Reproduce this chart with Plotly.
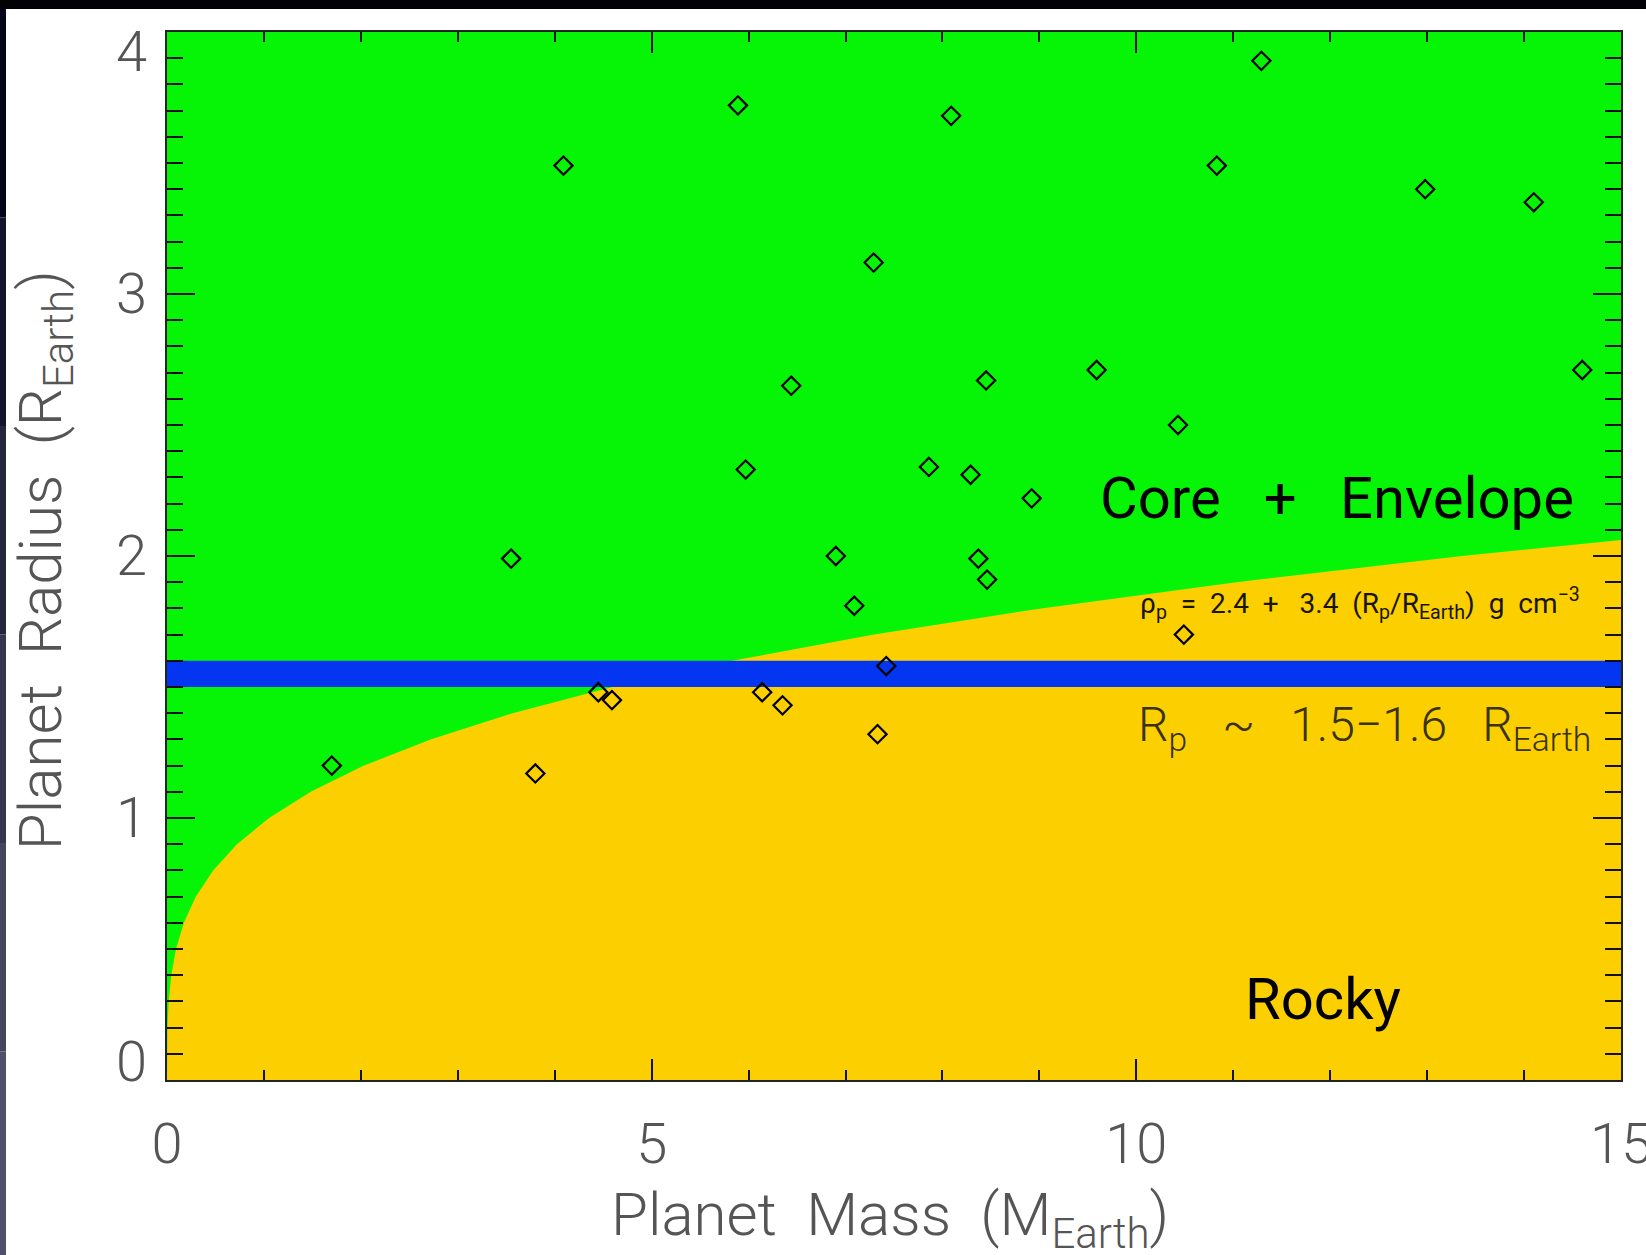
import plotly.graph_objects as go

# ---- data ----
planet_mass = [1.70, 3.55, 3.80, 4.09, 4.45, 4.59, 5.89, 5.97, 6.14, 6.35, 6.44,
               6.90, 7.09, 7.29, 7.33, 7.42, 7.86, 8.09, 8.29, 8.37, 8.45, 8.46,
               8.92, 9.59, 10.43, 10.49, 10.83, 11.29, 12.98, 14.10, 14.60]
planet_radius = [1.20, 1.99, 1.17, 3.49, 1.48, 1.45, 3.72, 2.33, 1.48, 1.43, 2.65,
                 2.00, 1.81, 3.12, 1.32, 1.58, 2.34, 3.68, 2.31, 1.99, 2.67, 1.91,
                 2.22, 2.71, 2.50, 1.70, 3.49, 3.89, 3.40, 3.35, 2.71]

# rocky / envelope boundary (radius, mass) read along the green/yellow edge
boundary_radius = [0.0, 0.1, 0.2, 0.3, 0.4, 0.5, 0.6, 0.7, 0.8, 0.9, 1.0, 1.1,
                   1.2, 1.3, 1.4, 1.5, 1.6, 1.7, 1.8, 1.9, 2.0, 2.1]
boundary_mass = [0.0, 0.0005, 0.0045, 0.017, 0.044, 0.093, 0.174, 0.298, 0.476,
                 0.722, 1.053, 1.483, 2.032, 2.719, 3.566, 4.594, 5.828, 7.294,
                 9.018, 11.03, 13.36, 16.03]

band_low, band_high = 1.5, 1.6

x_ticks = [0, 5, 10, 15]
y_ticks = [0, 1, 2, 3, 4]
y_tick_text = ["0", "1", "2", "3", "4"]

# ---- style ----
GREEN = "#06F406"
YELLOW = "#FCD000"
BLUE = "#0436F2"
AXIS_GRAY = "#555555"
FONT_LIGHT = dict(family="Roboto", weight=300, color=AXIS_GRAY)
NB = "\u00a0"

fig = go.Figure()

# green (core + envelope) region above the boundary
fig.add_trace(go.Scatter(
    x=[0] + boundary_mass + [16, 16, -1, -1],
    y=[0] + boundary_radius + [boundary_radius[-1], 4.5, 4.5, 0],
    fill="toself", fillcolor=GREEN, mode="lines", line=dict(width=0),
    hoverinfo="skip", showlegend=False))

# blue band
fig.add_trace(go.Scatter(
    x=[-1, 16, 16, -1], y=[band_low, band_low, band_high, band_high],
    fill="toself", fillcolor=BLUE, mode="lines", line=dict(width=0),
    hoverinfo="skip", showlegend=False))

# planets
fig.add_trace(go.Scatter(
    x=planet_mass, y=planet_radius, mode="markers",
    marker=dict(symbol="diamond-open", size=14, color="black",
                line=dict(width=2.2, color="black")),
    showlegend=False))

fig.update_layout(
    width=1646, height=1255,
    margin=dict(l=167, r=25, t=32, b=175, autoexpand=False),
    paper_bgcolor="white", plot_bgcolor=YELLOW,
    showlegend=False,
)

fig.update_xaxes(
    range=[0, 15], tickvals=x_ticks, ticks="inside", ticklen=21, tickwidth=2,
    tickcolor="#111", showline=True, linewidth=2, linecolor="#222", mirror="ticks",
    showgrid=False, zeroline=False, automargin=False,
    minor=dict(dtick=1, tick0=0, ticks="inside", ticklen=10, tickwidth=2,
               tickcolor="#111", showgrid=False),
    tickfont=dict(size=56, **FONT_LIGHT), ticklabelstandoff=14,
    ticklabeloverflow="allow",
)
fig.update_yaxes(
    range=[0, 4], tickvals=y_ticks, ticks="inside", ticklen=28, tickwidth=2,
    tickcolor="#111", showline=True, linewidth=2, linecolor="#222", mirror="ticks",
    showgrid=False, zeroline=False, showticklabels=False, automargin=False,
    minor=dict(dtick=0.1, tick0=0, ticks="inside", ticklen=16, tickwidth=2,
               tickcolor="#111", showgrid=False),
)

annotations = []
# y tick labels (end labels sit slightly inward, as in the original)
y_label_shift = {0: 18, 4: -20}
for v, t in zip(y_ticks, y_tick_text):
    annotations.append(dict(x=0, xref="paper", xanchor="right", xshift=-18,
                            y=v, yref="y", yanchor="middle", yshift=y_label_shift.get(v, 0),
                            text=t, showarrow=False, font=dict(size=56, **FONT_LIGHT)))

# axis titles
annotations.append(dict(x=0.497, xref="paper", y=-0.1317, yref="paper",
                        xanchor="center", yanchor="middle", showarrow=False,
                        text="Planet" + NB + " Mass" + NB + " (M<sub>Earth</sub>)",
                        font=dict(size=60, **FONT_LIGHT)))
annotations.append(dict(x=-0.0846, xref="paper", y=0.496, yref="paper",
                        xanchor="center", yanchor="middle", showarrow=False, textangle=-90,
                        text="Planet" + NB + " Radius" + NB + " (R<sub>Earth</sub>)",
                        font=dict(size=60, **FONT_LIGHT)))

# region labels
annotations.append(dict(x=9.60, y=2.22, xref="x", yref="y", xanchor="left", yanchor="middle",
                        showarrow=False, text="Core" + NB * 2 + " +" + NB * 2 + " Envelope",
                        font=dict(family="Roboto", size=58, color="black")))
annotations.append(dict(x=11.10, y=0.31, xref="x", yref="y", xanchor="left", yanchor="middle",
                        showarrow=False, text="Rocky",
                        font=dict(family="Roboto", size=58, color="black")))
annotations.append(dict(x=10.0, y=1.345, xref="x", yref="y", xanchor="left", yanchor="middle",
                        showarrow=False,
                        text="R<sub>p</sub>" + NB * 2 + " ~" + NB * 2 + " 1.5\u22121.6" + NB * 2 + " R<sub>Earth</sub>",
                        font=dict(family="Roboto", weight=300, size=48, color="#3a3208")))
annotations.append(dict(x=10.02, y=1.82, xref="x", yref="y", xanchor="left", yanchor="middle",
                        showarrow=False,
                        text="\u03c1<sub>p</sub>" + NB + " =" + NB + " 2.4" + NB + " +" + NB * 2 + " 3.4"
                             + NB + " (R<sub>p</sub>/R<sub>Earth</sub>)" + NB + " g" + NB + " cm<sup>\u22123</sup>",
                        font=dict(family="Roboto", size=28, color="#1a1500")))

fig.update_layout(annotations=annotations)

# slide-frame dark edges (top bar and left strip)
W, H = 1454.0, 1048.0
def px_x(p):
    return (p - 167) / W
def px_y(p):
    return (1080 - p) / H

shapes = [dict(type="rect", xref="paper", yref="paper", x0=px_x(-5), x1=px_x(1700),
               y0=px_y(9), y1=px_y(-5), fillcolor="#020205", line=dict(width=0), layer="below")]
strip_colors = ["#05051a", "#14142c", "#25253c", "#36364e", "#45455c", "#50506a"]
n = len(strip_colors)
for i, c in enumerate(strip_colors):
    y_top = 9 + (1260 - 9) * i / n
    y_bot = 9 + (1260 - 9) * (i + 1) / n
    shapes.append(dict(type="rect", xref="paper", yref="paper", x0=px_x(-5), x1=px_x(6),
                       y0=px_y(y_bot), y1=px_y(y_top), fillcolor=c, line=dict(width=0),
                       layer="below"))
fig.update_layout(shapes=shapes)

fig.write_html("out.html")
